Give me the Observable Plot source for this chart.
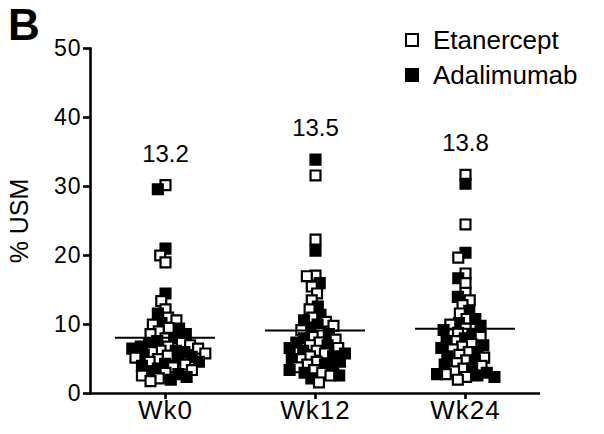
<!DOCTYPE html>
<html>
<head>
<meta charset="utf-8">
<script src="https://cdn.jsdelivr.net/npm/d3@7"></script>
<script src="https://cdn.jsdelivr.net/npm/@observablehq/plot@0.6"></script>
<style>
  html, body { margin: 0; padding: 0; background: #fff; }
  #wrap { position: relative; width: 604px; height: 434px; font-family: "Liberation Sans", Arial, Helvetica, sans-serif; }
  #wrap svg { font-family: "Liberation Sans", Arial, Helvetica, sans-serif; }
  #wrap svg g[aria-label="y-axis label"], #wrap svg g[aria-label="y-axis label"] text { font-size: 25px; }
  #wrap svg g[aria-label="y-axis tick label"] text { letter-spacing: 1px; }
  #wrap svg g[aria-label="fx-axis tick label"] text { letter-spacing: 1px; }
  #panel { position: absolute; left: 8px; top: 2px; font-size: 44px; font-weight: bold; line-height: 46px; }
  .leg { position: absolute; left: 405px; font-size: 26px; line-height: 30px; display: flex; align-items: center; }
  .sw { width: 10px; height: 10px; border: 2px solid #000; margin-right: 14px; box-sizing: content-box; }
</style>
</head>
<body>
<div id="wrap">
  <div id="panel">B</div>
  <div class="leg" style="top:25px"><span class="sw" style="background:#fff"></span>Etanercept</div>
  <div class="leg" style="top:60px"><span class="sw" style="background:#000"></span>Adalimumab</div>
</div>
<script>
const weeks = ["Wk0", "Wk12", "Wk24"];
const groups = ["Etanercept", "Adalimumab"];
const yTicks = [0, 10, 20, 30, 40, 50];
const topLabels = ["13.2", "13.5", "13.8"];

const wk0Etanercept = [30.2, 20.0, 19.0, 13.4, 12.2, 11.0, 10.6, 10.0, 9.5, 9.0, 8.6, 8.0, 7.4, 7.0, 6.8, 6.5, 6.2, 6.0, 5.8, 5.5, 5.2, 5.0, 4.6, 4.2, 3.8, 3.4, 3.0, 2.6, 2.2, 1.8];
const wk0Adalimumab = [29.6, 21.0, 14.5, 11.6, 10.2, 9.4, 8.6, 8.0, 7.6, 7.2, 6.8, 6.5, 6.2, 6.0, 5.6, 5.3, 5.0, 4.6, 4.3, 4.0, 3.6, 3.2, 2.8, 2.4, 2.0];
const wk12Etanercept = [31.6, 22.3, 17.1, 17.0, 15.5, 14.5, 13.5, 12.2, 11.0, 10.4, 9.8, 9.2, 8.8, 8.2, 7.8, 7.4, 7.0, 6.6, 6.2, 5.8, 5.4, 5.0, 4.6, 4.2, 3.8, 3.4, 3.0, 2.6, 1.6];
const wk12Adalimumab = [33.9, 20.7, 16.0, 12.6, 11.4, 10.6, 10.0, 9.4, 8.6, 8.0, 7.4, 7.0, 6.6, 6.2, 5.8, 5.4, 5.0, 4.6, 4.2, 3.8, 3.4, 3.0, 2.6, 2.2];
const wk24Etanercept = [31.7, 24.5, 19.7, 17.4, 16.0, 14.6, 13.5, 12.8, 11.6, 10.8, 10.0, 9.4, 8.8, 8.2, 7.6, 7.2, 6.8, 6.4, 6.0, 5.6, 5.2, 4.8, 4.4, 4.0, 3.6, 3.2, 2.8, 2.4, 2.0];
const wk24Adalimumab = [30.4, 20.4, 16.7, 14.0, 12.0, 10.8, 10.2, 9.8, 9.2, 8.6, 8.0, 7.6, 7.0, 6.6, 6.0, 5.4, 4.8, 4.2, 3.6, 3.0, 2.8, 2.6, 2.4];

const series = [
  ["Wk0", "Etanercept", wk0Etanercept], ["Wk0", "Adalimumab", wk0Adalimumab],
  ["Wk12", "Etanercept", wk12Etanercept], ["Wk12", "Adalimumab", wk12Adalimumab],
  ["Wk24", "Etanercept", wk24Etanercept], ["Wk24", "Adalimumab", wk24Adalimumab]
];
const rows = [];
for (const [week, group, vals] of series) for (const v of vals) rows.push({week, group, value: v});
rows.sort((a, b) => d3.descending(a.value, b.value));

const labelRows = weeks.map((w, i) => ({
  week: w, label: topLabels[i],
  top: d3.max(rows.filter(r => r.week === w), r => r.value)
}));

const chart = Plot.plot({
  width: 604, height: 434,
  marginLeft: 89, marginRight: 64, marginTop: 48, marginBottom: 41,
  fx: {domain: weeks, padding: 0, label: null},
  y: {domain: [0, 50], label: null},
  color: {domain: groups, range: ["#ffffff", "#000000"]},
  marks: [
    Plot.dot(rows, Plot.dodgeX({anchor: "middle", padding: -2.5}, {
      fx: "week", y: "value", r: 5.6, symbol: "square",
      fill: "group", stroke: "#000", strokeWidth: 2.2
    })),
    Plot.ruleY(rows, Plot.groupZ({y: "mean"}, {fx: "week", y: "value", insetLeft: 25, insetRight: 25, stroke: "#000", strokeWidth: 2})),
    Plot.text(labelRows, {fx: "week", y: "top", text: "label", dy: -31, fontSize: 24, fill: "#000"}),
    Plot.ruleY([0], {stroke: "#000", strokeWidth: 2.6}),
    Plot.frame({anchor: "left", facetAnchor: "left", stroke: "#000", strokeWidth: 2.6}),
    Plot.axisY({ticks: yTicks, tickSize: 7, tickPadding: 2, strokeWidth: 2.6, fontSize: 23, color: "#000",
      label: "% USM", labelAnchor: "center", labelArrow: "none", labelOffset: 80}),
    Plot.axisFx({anchor: "bottom", tickSize: 6, tickPadding: 1, strokeWidth: 2.6, fontSize: 26, label: null, color: "#000"})
  ]
});
document.getElementById("wrap").prepend(chart);
</script>
</body>
</html>
